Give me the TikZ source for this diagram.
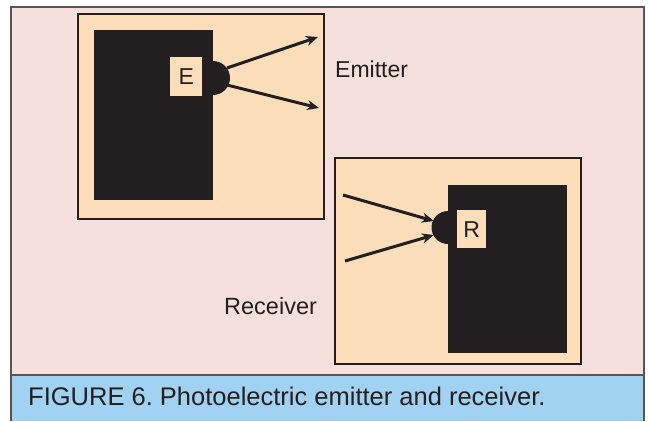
\documentclass[tikz,border=0pt]{standalone}
\usepackage{fontspec}
\setmainfont{Liberation Sans}
\usetikzlibrary{positioning,arrows.meta}
\definecolor{bgpink}{RGB}{245,224,222}
\definecolor{peach}{RGB}{253,222,186}
\definecolor{capblue}{RGB}{162,210,242}
\definecolor{ink}{RGB}{35,31,32}
\definecolor{rule}{RGB}{85,85,85}
\frenchspacing
\tikzset{
  panel/.style={draw=ink, line width=2pt, fill=peach, inner sep=0pt, anchor=north west},
  body/.style={fill=ink, draw=none, inner sep=0pt, anchor=north west},
  tag/.style={fill=peach, inner sep=0pt, anchor=north west, font=\fontsize{23}{27}\selectfont, text=ink},
  label/.style={inner sep=0pt, anchor=base west, text=ink, font=\fontsize{23}{27}\selectfont},
  ray/.style={draw=ink, line width=3pt, -{Stealth[length=12pt,width=10pt]}}
}
\begin{document}
\begin{tikzpicture}[x=1pt,y=-1pt]
\useasboundingbox (0,0) rectangle (650,421);
% Frame and caption band
\fill[bgpink] (11,7) rectangle (644,375);
\fill[capblue] (11,375) rectangle (644,421);
\draw[rule, line width=1.6pt] (11,421) -- (11,7) -- (644,7) -- (644,421);
\draw[rule, line width=1.2pt] (11,375) -- (644,375);
% Emitter
\node[panel, minimum width=246pt, minimum height=205pt] (emitbox) at (77,13) {};
\node[body, minimum width=119pt, minimum height=170pt] (emitbody) at (94,30) {};
\fill[ink] (213,61) arc[start angle=90, end angle=-90, radius=17pt];
\coordinate (eye) at (213,78);
\node[tag, minimum width=32pt, minimum height=39pt] (etag) at (170,57) {};
\node[text=ink, font=\fontsize{23}{27}\selectfont] at (etag.center) {E};
\coordinate (eupA) at (227,68);
\coordinate (eupB) at (318,37);
\coordinate (elowA) at (227,85);
\coordinate (elowB) at (319,108);
\draw[ray] (eupA) -- (eupB);
\draw[ray] (elowA) -- (elowB);
\node[label] (emitlbl) at (335,77.5) {Emitter};
% Receiver
\node[panel, minimum width=246pt, minimum height=206pt] (recvbox) at (334,157) {};
\node[body, minimum width=119pt, minimum height=168pt] (recvbody) at (448,185) {};
\fill[ink] (448,211) arc[start angle=90, end angle=270, radius=16.5pt];
\node[tag, minimum width=29pt, minimum height=38pt] (rtag) at (457,210) {};
\node[text=ink, font=\fontsize{23}{27}\selectfont] at (rtag.center) {R};
\coordinate (rupA) at (343,195);
\coordinate (rupB) at (434,221);
\coordinate (rlowA) at (345,261);
\coordinate (rlowB) at (434,235);
\draw[ray] (rupA) -- (rupB);
\draw[ray] (rlowA) -- (rlowB);
\node[label, font=\fontsize{23.5}{28}\selectfont] (recvlbl) at (224,314.3) {Receiver};
% Caption
\node[label, font=\fontsize{25.5}{30}\selectfont] (caption) at (28,405.7) {FIGURE 6. Photoelectric emitter and receiver.};
\end{tikzpicture}
\end{document}
